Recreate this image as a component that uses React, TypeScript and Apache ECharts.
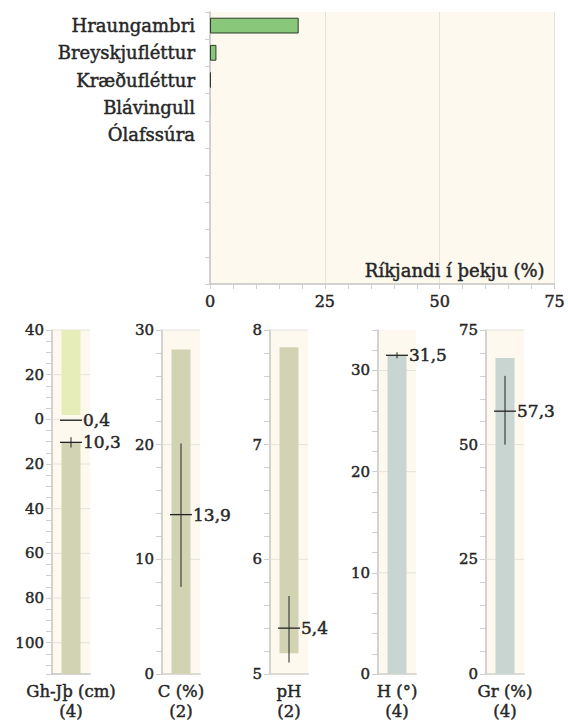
import React, { useEffect, useRef } from 'react';
import * as echarts from 'echarts';

// ---- Data ----
const species = ['Hraungambri', 'Breyskjufléttur', 'Kræðufléttur', 'Blávingull', 'Ólafssúra', '', '', '', '', ''];
const cover = [19.3, 1.4, 0.2, 0.04, 0.02, null, null, null, null, null];
const coverTicks = [0, 25, 50, 75];

const panelNames = ['Gh-Jþ (cm)', 'C (%)', 'pH', 'H (°)', 'Gr (%)'];
const panelCounts = ['(4)', '(2)', '(2)', '(4)', '(4)'];
const panelMin = [-40, 0, 5, 0, 0];
const panelMax = [114, 30, 8, 34, 75];
const panelMinorStep = [5, 2, 0.2, 2, 5];
const panelMajorStep = [20, 10, 1, 10, 25];

// bar ranges [low, high] per panel
const barLow = [[-40, 10.3], [0], [5.18], [0], [0]];
const barHigh = [[-2, 114], [28.3], [7.85], [31.5], [68.9]];

// markers
const markerValue = [[0.4, 10.3], [13.9], [5.4], [31.5], [57.3]];
const markerErrLow = [[null, 8.0], [7.6], [5.1], [31.2], [50.0]];
const markerErrHigh = [[null, 12.6], [20.1], [5.68], [31.8], [65.0]];
const markerLabel = [['0,4', '10,3'], ['13,9'], ['5,4'], ['31,5'], ['57,3']];

// ---- Styles ----
const FONT = 'DejaVu Serif';
const TEXT = '#262626';
const HEAVY = { textBorderColor: '#262626', textBorderWidth: 0.45 };
const AXIS = '#c4c4c4';
const TICK = '#cfcfcf';
const BG = '#fdf9ef';
const GRIDLINE = '#e4e2dc';
const barColors = [['#e6edb9', '#d2d3b3'], ['#d2d3b3'], ['#d2d3b3'], ['#c9d5d1'], ['#c9d5d1']];
const panelLeft = [52, 162, 270, 378, 486];
const panelWidth = 38;

function isMult(v: number, step: number) {
  const r = v / step;
  return Math.abs(r - Math.round(r)) < 1e-6;
}

export default function App() {
  const ref = useRef<HTMLDivElement>(null);
  useEffect(() => {
    if (!ref.current) return;
    const chart = echarts.init(ref.current, null, { renderer: 'svg' });

    const grids: any[] = [
      { left: 210, right: 10, top: 12, bottom: 438, show: true, backgroundColor: BG, borderWidth: 0, containLabel: false },
    ];
    const xAxes: any[] = [
      {
        gridIndex: 0,
        type: 'value',
        min: coverTicks[0],
        max: coverTicks[coverTicks.length - 1],
        interval: coverTicks[1] - coverTicks[0],
        axisLine: { show: true, lineStyle: { color: AXIS, width: 1.5 } },
        axisTick: { show: true, length: 5, lineStyle: { color: TICK } },
        minorTick: { show: true, splitNumber: 5, length: 5, lineStyle: { color: TICK } },
        splitLine: { show: true, lineStyle: { color: GRIDLINE, width: 1 } },
        axisLabel: { color: TEXT, fontFamily: FONT, fontSize: 16, margin: 9, ...HEAVY },
        name: 'Ríkjandi í þekju (%)',
        nameLocation: 'end',
        nameGap: -10,
        nameTextStyle: { color: TEXT, fontFamily: FONT, fontSize: 18, align: 'right', verticalAlign: 'bottom', padding: [0, 0, 5, 0], ...HEAVY },
      },
    ];
    const yAxes: any[] = [
      {
        gridIndex: 0,
        type: 'category',
        data: species,
        inverse: true,
        axisLine: { show: true, lineStyle: { color: AXIS, width: 1.5 } },
        axisTick: { show: true, length: 5, lineStyle: { color: TICK } },
        axisLabel: { color: TEXT, fontFamily: FONT, fontSize: 18, margin: 15, ...HEAVY },
        splitLine: { show: false },
      },
    ];
    const series: any[] = [
      {
        type: 'bar',
        xAxisIndex: 0,
        yAxisIndex: 0,
        data: cover.map((v) => (v == null ? null : { value: v, itemStyle: { borderWidth: v < 0.1 ? 0 : 1 } })),
        barWidth: '58%',
        itemStyle: { color: '#89c87a', borderColor: '#2e3a2c', borderWidth: 1 },
      },
    ];

    panelNames.forEach((name, i) => {
      const gi = i + 1;
      grids.push({ left: panelLeft[i], width: panelWidth, top: 330, bottom: 48, show: true, backgroundColor: BG, borderWidth: 0 });
      xAxes.push({
        gridIndex: gi,
        type: 'category',
        data: [name + '\n' + panelCounts[i]],
        position: 'bottom',
        axisLine: { show: true, onZero: false, lineStyle: { color: AXIS, width: 1.5 } },
        axisTick: { show: false },
        axisLabel: { color: TEXT, fontFamily: FONT, fontSize: 16.5, lineHeight: 20, margin: 7, interval: 0, ...HEAVY },
        splitLine: { show: false },
      });
      const major = panelMajorStep[i];
      yAxes.push({
        gridIndex: gi,
        type: 'value',
        min: panelMin[i],
        max: panelMax[i],
        interval: panelMinorStep[i],
        inverse: i === 0,
        axisLine: { show: true, onZero: false, lineStyle: { color: AXIS, width: 1.5 } },
        axisTick: { show: true, length: 6, lineStyle: { color: TICK } },
        axisLabel: {
          color: TEXT,
          fontFamily: FONT,
          fontSize: 15,
          margin: 8,
          showMinLabel: true,
          showMaxLabel: true,
          ...HEAVY,
          formatter: (v: number) => (isMult(v, major) ? String(Math.round(Math.abs(v) * 100) / 100) : ''),
        },
        splitLine: { show: false },
      });
      // major grid lines
      const majors: number[] = [];
      for (let v = panelMin[i]; v <= panelMax[i] + 1e-9; v += panelMinorStep[i]) {
        const rv = Math.round(v * 1000) / 1000;
        if (isMult(rv, major)) majors.push(rv);
      }
      series.push({
        type: 'custom',
        xAxisIndex: gi,
        yAxisIndex: gi,
        z: 1,
        silent: true,
        data: majors.map((v) => [0, v]),
        renderItem: (params: any, api: any) => {
          const p = api.coord([0, api.value(1)]);
          const cs = params.coordSys;
          return {
            type: 'line',
            shape: { x1: cs.x, y1: p[1], x2: cs.x + cs.width, y2: p[1] },
            style: { stroke: GRIDLINE, lineWidth: 1 },
          };
        },
      });
      // range bars
      series.push({
        type: 'custom',
        xAxisIndex: gi,
        yAxisIndex: gi,
        z: 2,
        silent: true,
        data: barLow[i].map((lo, k) => [0, lo, barHigh[i][k]]),
        renderItem: (params: any, api: any) => {
          const a = api.coord([0, api.value(1)]);
          const b = api.coord([0, api.value(2)]);
          const w = api.size([1, 0])[0] * 0.5;
          return {
            type: 'rect',
            shape: { x: a[0] - w / 2, y: Math.min(a[1], b[1]), width: w, height: Math.abs(a[1] - b[1]) },
            style: { fill: barColors[i][params.dataIndex] },
          };
        },
      });
      // markers
      series.push({
        type: 'custom',
        xAxisIndex: gi,
        yAxisIndex: gi,
        z: 3,
        silent: true,
        clip: false,
        data: markerValue[i].map((v) => [0, v]),
        renderItem: (params: any, api: any) => {
          const k = params.dataIndex;
          const c = api.coord([0, api.value(1)]);
          const children: any[] = [
            { type: 'line', shape: { x1: c[0] - 11, y1: c[1], x2: c[0] + 11, y2: c[1] }, style: { stroke: '#222', lineWidth: 1.3 } },
          ];
          const lo = markerErrLow[i][k];
          const hi = markerErrHigh[i][k];
          if (lo != null && hi != null) {
            const a = api.coord([0, lo]);
            const b = api.coord([0, hi]);
            children.push({ type: 'line', shape: { x1: c[0], y1: a[1], x2: c[0], y2: b[1] }, style: { stroke: '#222', lineWidth: 1 } });
          }
          children.push({
            type: 'text',
            style: {
              text: markerLabel[i][k],
              x: c[0] + 12,
              y: c[1],
              align: 'left',
              verticalAlign: 'middle',
              fontFamily: FONT,
              fontSize: 17,
              fill: TEXT,
              stroke: TEXT,
              lineWidth: 0.45,
            },
          });
          return { type: 'group', children };
        },
      });
    });

    chart.setOption({
      animation: false,
      backgroundColor: '#ffffff',
      grid: grids,
      xAxis: xAxes,
      yAxis: yAxes,
      series,
    });
    return () => chart.dispose();
  }, []);
  return <div ref={ref} style={{ position: 'fixed', left: 0, top: 0, width: 568, height: 722 }} />;
}
